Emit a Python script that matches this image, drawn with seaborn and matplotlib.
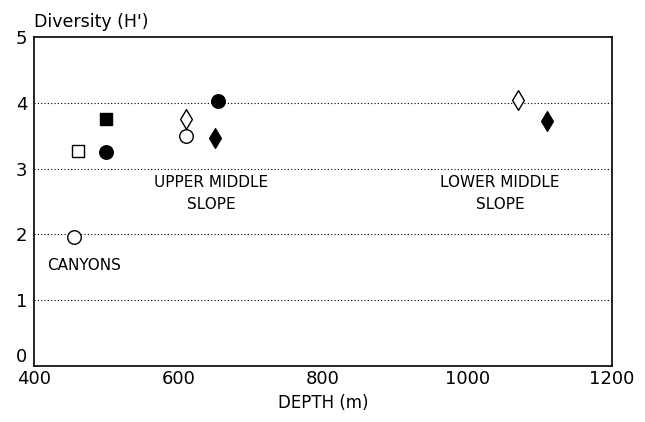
import matplotlib
matplotlib.use("Agg")
import matplotlib.pyplot as plt
import seaborn as sns
import pandas as pd

# values
depth = [460, 500, 500, 455, 610, 610, 655, 650, 1070, 1110]
diversity = [3.27, 3.75, 3.25, 1.96, 3.76, 3.50, 4.03, 3.47, 4.05, 3.72]
shape = ["s", "s", "o", "o", "d", "o", "o", "d", "d", "d"]
filled = [False, True, True, False, False, False, True, True, False, True]

df = pd.DataFrame({"depth": depth, "H": diversity, "shape": shape, "filled": filled})

sns.set_theme(style="white")
plt.rcParams["font.family"] = ["DejaVu Sans"]
plt.rcParams["text.color"] = "black"
plt.rcParams["xtick.color"] = "black"
plt.rcParams["ytick.color"] = "black"
plt.rcParams["axes.labelcolor"] = "black"

fig, ax = plt.subplots(figsize=(6.45, 4.22), dpi=100)
fig.subplots_adjust(left=0.053, right=0.949, top=0.912, bottom=0.133)

for y in [1, 2, 3, 4]:
    ax.axhline(y, color="black", lw=0.8, ls=(0, (1, 2)), zorder=0)

sizes = {"s": 70, "o": 95, "d": 100}
for (m, f), g in df.groupby(["shape", "filled"]):
    sns.scatterplot(data=g, x="depth", y="H", marker=m, s=sizes[m],
                    facecolor="black" if f else "white", edgecolor="black",
                    linewidth=1.0, ax=ax, zorder=3, legend=False)

ax.set_xlim(400, 1200)
ax.set_ylim(0, 5)
ax.set_xticks([400, 600, 800, 1000, 1200])
ax.set_yticks([0, 1, 2, 3, 4, 5])
ax.tick_params(axis="x", direction="in", length=6, width=0.8, labelsize=13, pad=3)
ax.tick_params(axis="y", direction="out", length=3, width=0.8, labelsize=13, pad=2)
# the zero label sits just above the bottom axis, as in the original
ax.get_yticklabels()[0].set_va("bottom")
for sp in ax.spines.values():
    sp.set_color("black")
    sp.set_linewidth(1.2)

ax.set_xlabel("DEPTH (m)", fontsize=12, labelpad=4)
ax.set_ylabel("")
ax.text(0.0, 1.02, "Diversity (H')", transform=ax.transAxes, fontsize=12.5,
        ha="left", va="bottom")

ax.text(645, 2.9, "UPPER MIDDLE\nSLOPE", ha="center", va="top", fontsize=11,
        linespacing=1.6)
ax.text(1045, 2.9, "LOWER MIDDLE\nSLOPE", ha="center", va="top", fontsize=11,
        linespacing=1.6)
ax.text(418, 1.53, "CANYONS", ha="left", va="center", fontsize=11)

fig.savefig("out.png", dpi=100, facecolor="white")
